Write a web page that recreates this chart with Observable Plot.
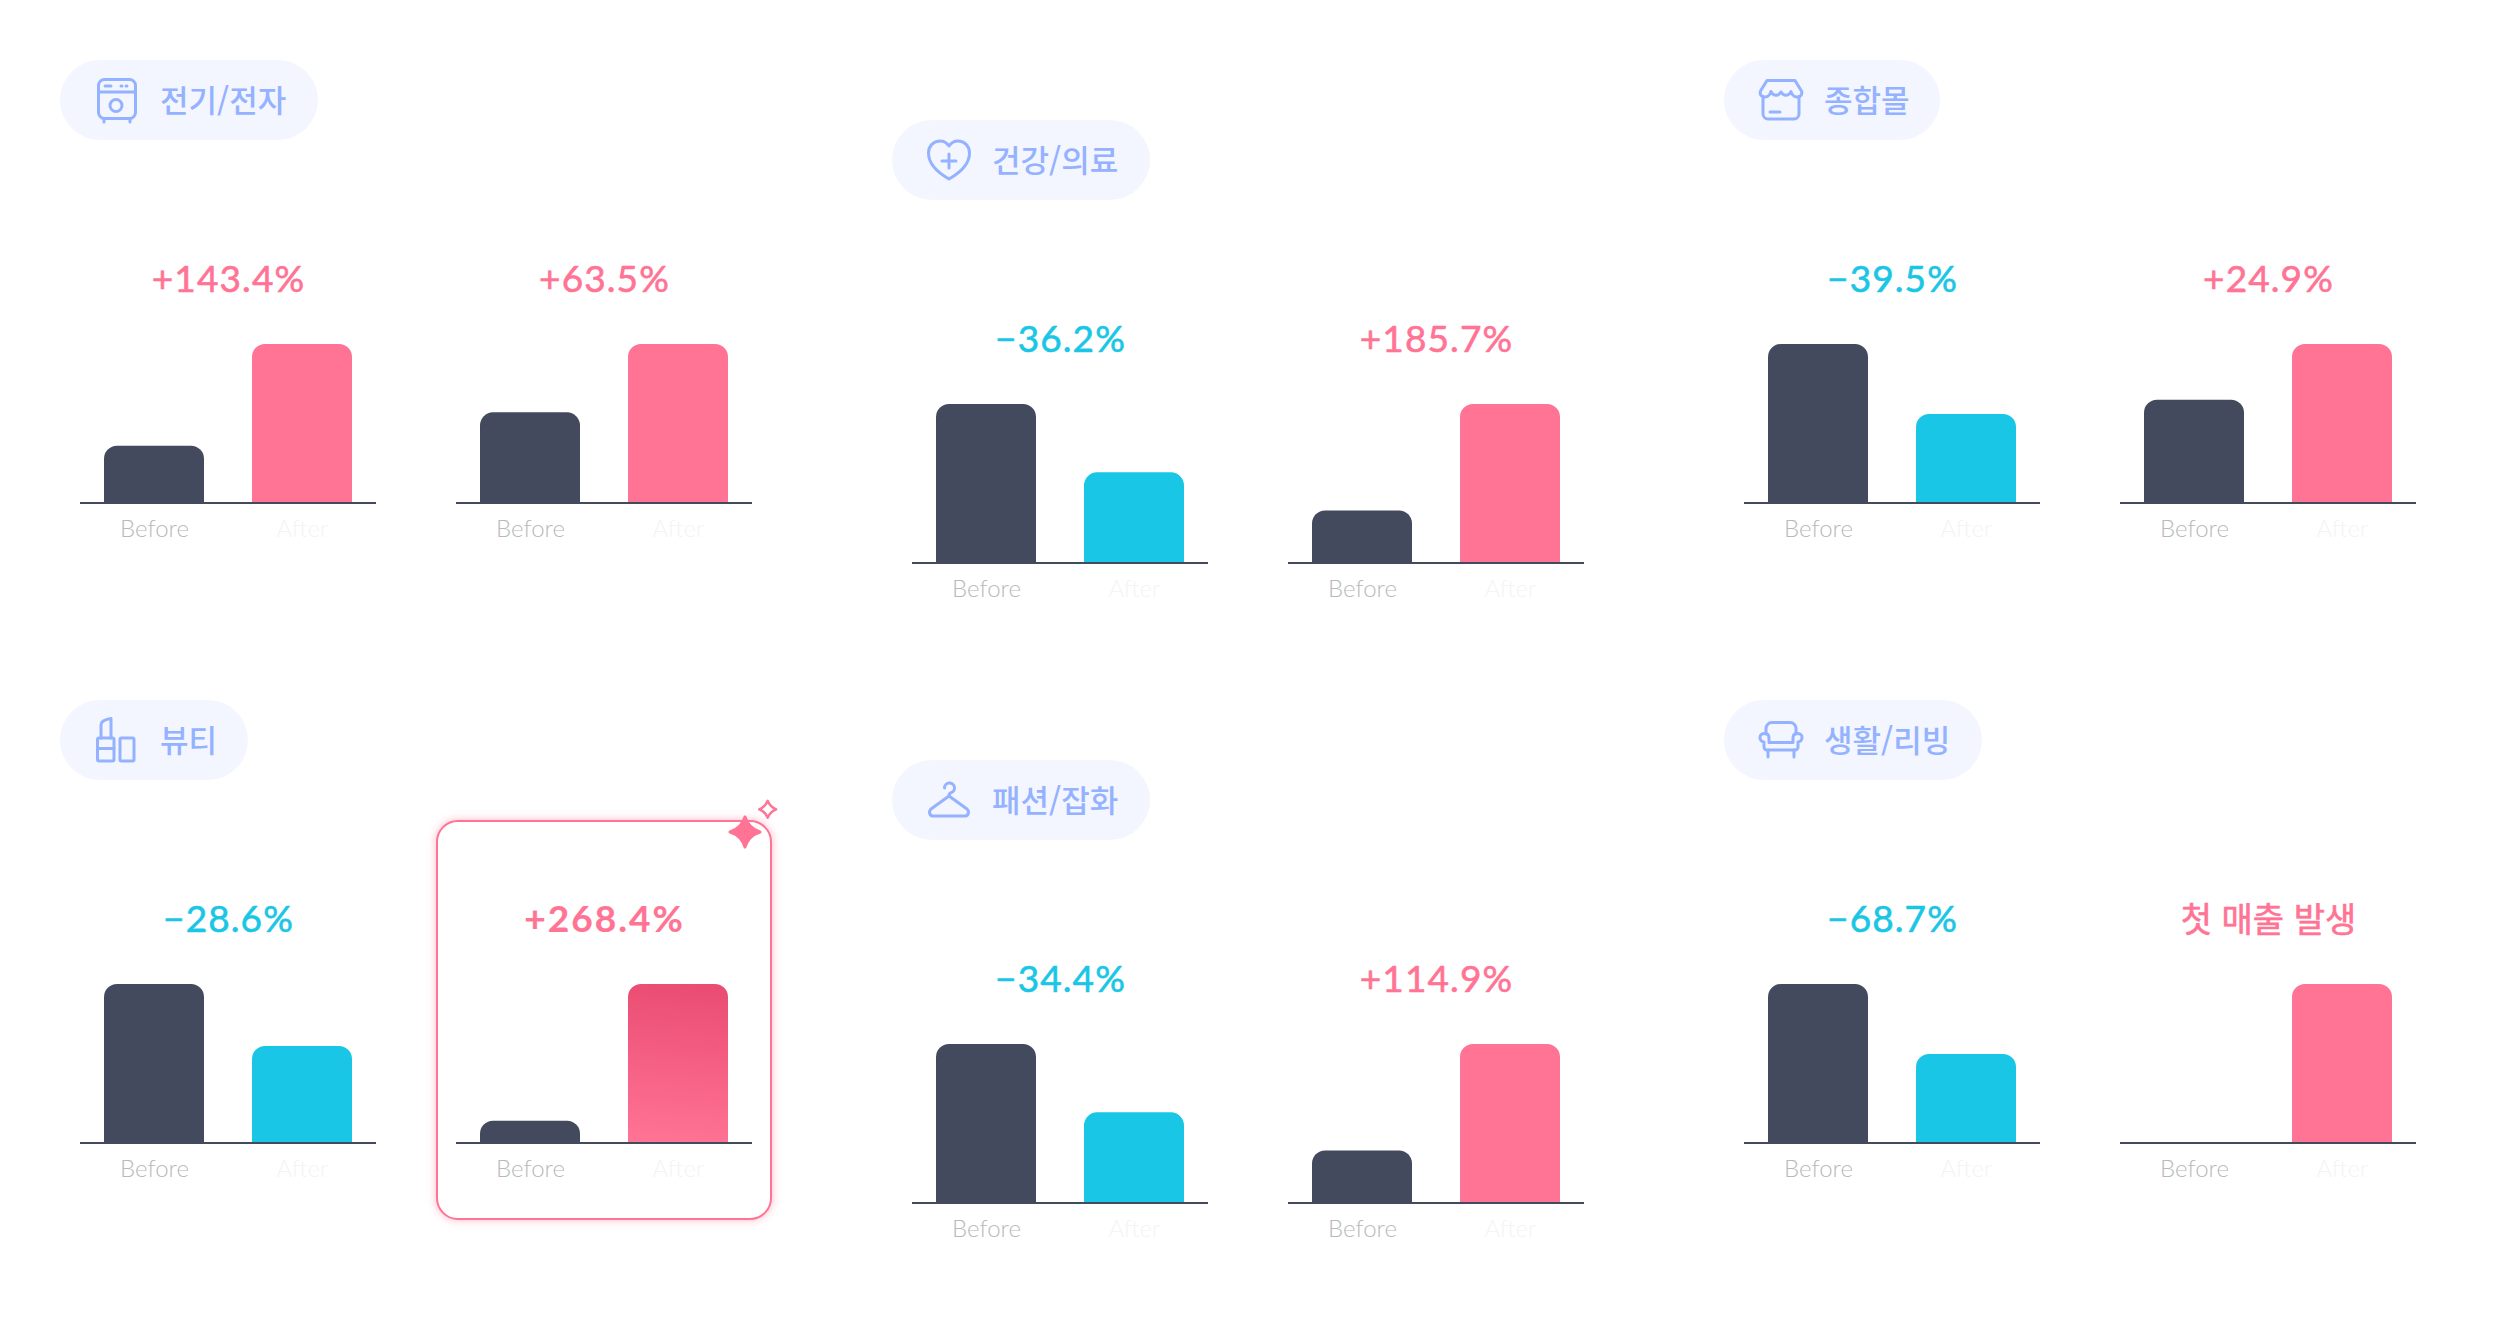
<!DOCTYPE html>
<html lang="ko">
<head>
<meta charset="utf-8">
<script src="https://cdn.jsdelivr.net/npm/d3@7"></script>
<script src="https://cdn.jsdelivr.net/npm/@observablehq/plot@0.6"></script>
<style>
html,body{margin:0;padding:0;background:#fff;}
#page{position:relative;width:2496px;height:1340px;overflow:hidden;background:#fff;}
.pill{position:absolute;height:80px;border-radius:40px;background:#f3f6ff;}
.pill svg{position:absolute;top:16px;left:33px;width:48px;height:48px;fill:none;stroke:#94b2ff;stroke-width:3;stroke-linejoin:round;stroke-linecap:round;}
.pill span{position:absolute;left:100px;top:0;font:500 31px/78px "Noto Sans CJK KR";color:#94b2ff;white-space:nowrap;}
.panel{position:absolute;}
.panel svg{display:block;background:transparent;overflow:visible;}
.panel.num svg g[aria-label="text"]{letter-spacing:1.1px;}
.panel.num.hot svg g[aria-label="text"]{letter-spacing:2px;}
#hl{position:absolute;left:436px;top:820px;width:332px;height:396px;border:2px solid #ff7394;border-radius:22px;box-shadow:0 0 8px rgba(255,115,148,.5);background:#fff;}
#spark{position:absolute;left:720px;top:790px;width:70px;height:70px;overflow:visible;}
</style>
</head>
<body>
<div id="page"></div>
<script>
// ---- data ----
const steps = ["Before", "After"];
const categories = ["전기/전자", "건강/의료", "종합몰", "뷰티", "패션/잡화", "생활/리빙"];
const beforeA = [36, 100, 100, 100, 100, 100];
const afterA  = [100, 57, 56, 61, 57, 56];
const beforeB = [57, 33, 65, 14, 33, 0];
const afterB  = [100, 100, 100, 100, 100, 100];
const labelsA = ["+143.4%", "−36.2%", "−39.5%", "−28.6%", "−34.4%", "−68.7%"];
const labelsB = ["+63.5%", "+185.7%", "+24.9%", "+268.4%", "+114.9%", "첫 매출 발생"];

// ---- layout and style ----
const PINK = "#ff7394", CYAN = "#19c6e6", DARK = "#444a5e";
const groupX = [80, 912, 1744, 80, 912, 1744];
const groupTop = [60, 120, 60, 700, 760, 700];
const pillLeft = [60, 892, 1724, 60, 892, 1724];
const pillWidth = [258, 258, 216, 188, 258, 258];
const icons = [
 `<rect x="5.5" y="3.5" width="37" height="39" rx="6"/><path d="M5.5 16H42.5M12 10H18M28 10H29M33 10H34M11 43V46M37 43V46"/><circle cx="23" cy="29.5" r="6"/>`,
 `<path d="M24 43C10 35 3.5 27 3.5 17C3.5 10 8.5 5 15 5C19 5 22 7 24 10C26 7 29 5 33 5C39.5 5 44.5 10 44.5 17C44.5 27 38 35 24 43Z"/><path d="M24 18V32M17 25H31"/>`,
 `<path d="M10 4.5H38L44.5 15C45.5 18 44 20 42 20.5V38a5 5 0 0 1-5 5H11a5 5 0 0 1-5-5V20.5C4 20 2.5 18 3.5 15Z"/><path d="M6 20.5C9 22 13 20 14 15.5C16 20 21 21 24 16C27 21 32 20 34 15.5C35 20 39 22 42 20.5M13 36H23"/>`,
 `<rect x="4.5" y="22" width="16.5" height="23" rx="1.5"/><path d="M4.5 32.5H21M8 22V9Q8 4 18 2.5V22"/><rect x="27" y="22" width="14" height="23" rx="1.5"/>`,
 `<path d="M19.5 12a5 5 0 1 1 6.5 4.7c-1.5 .5-2 1.3-2 3.3L42 33C45 36 43 40 40 40H8C5 40 3 36 6 33L24 20"/>`,
 `<path d="M9 18V13a6 6 0 0 1 6-6.5H33a6 6 0 0 1 6 6.5V18"/><path d="M9 17.5C5 17 2.7 19 3 22C3 24 5 26 7 26V31a3 3 0 0 0 3 3H38a3 3 0 0 0 3-3V26C43 26 45 24 45 22C45.3 19 43 17 39 17.5C36.5 18 36 20 36 22V26.5H12V22C12 20 11.5 18 9 17.5Z"/><path d="M11 34V41M37 34V41"/>`
];

const page = document.getElementById("page");

// highlight card behind the panel with the strongest change
const hl = document.createElement("div"); hl.id = "hl"; page.appendChild(hl);

categories.forEach((c, i) => {
  const p = document.createElement("div");
  p.className = "pill";
  p.style.left = pillLeft[i] + "px";
  p.style.top = groupTop[i] + "px";
  p.style.width = pillWidth[i] + "px";
  p.innerHTML = `<svg viewBox="0 0 48 48">${icons[i]}</svg><span>${c}</span>`;
  page.appendChild(p);
});

function gradientDefs() {
  const ns = "http://www.w3.org/2000/svg";
  const defs = document.createElementNS(ns, "defs");
  const g = document.createElementNS(ns, "linearGradient");
  g.setAttribute("id", "hotBar");
  g.setAttribute("x1", "0.53"); g.setAttribute("y1", "0");
  g.setAttribute("x2", "0.47"); g.setAttribute("y2", "1");
  [["0", "#ea4c72"], ["1", "#ff7394"]].forEach(([o, c]) => {
    const s = document.createElementNS(ns, "stop");
    s.setAttribute("offset", o); s.setAttribute("stop-color", c);
    g.appendChild(s);
  });
  defs.appendChild(g);
  return defs;
}

function panel(before, after, label, left, top, hot) {
  const rows = [{step: steps[0], value: before}, {step: steps[1], value: after}];
  const up = after > before;
  const accent = up ? PINK : CYAN;
  const hasHangul = /[가-힣]/.test(label);
  const chart = Plot.plot({
    width: 296, height: 280,
    marginLeft: 0, marginRight: 0, marginTop: 80, marginBottom: 41,
    style: {background: "transparent", overflow: "visible"},
    x: {domain: steps, paddingInner: 0.324, paddingOuter: 0.162, axis: null},
    y: {domain: [0, 100], axis: null},
    marks: [
      gradientDefs,
      Plot.barY(rows, {
        x: "step", y: "value", ry1: 13,
        fill: d => d.step === "Before" ? DARK : (hot ? "url(#hotBar)" : accent)
      }),
      Plot.ruleY([0], {stroke: DARK, strokeWidth: 2, dy: -0.5}),
      Plot.text([label], {
        text: d => d, y: [100], dy: -53, lineAnchor: "bottom",
        fill: accent,
        stroke: accent,
        strokeWidth: hot ? 0.2 : 0.6,
        fontSize: hasHangul ? 34 : 37,
        fontWeight: hot ? 700 : 400,
        fontFamily: hasHangul ? "Noto Sans CJK KR" : "Lato"
      }),
      Plot.axisX({ticks: ["Before"], tickSize: 0, tickPadding: 16, label: null, fill: "#b9b9b9", fontSize: 24, fontFamily: "Lato", fontWeight: 300}),
      Plot.axisX({ticks: ["After"], tickSize: 0, tickPadding: 16, label: null, fill: "#f3f4f6", fontSize: 24, fontFamily: "Lato", fontWeight: 300})
    ]
  });
  const d = document.createElement("div");
  d.className = "panel" + (hasHangul ? "" : " num") + (hot ? " hot" : "");
  d.style.left = left + "px";
  d.style.top = top + "px";
  d.appendChild(chart);
  page.appendChild(d);
}

categories.forEach((c, i) => {
  const chartTop = groupTop[i] + 204;
  panel(beforeA[i], afterA[i], labelsA[i], groupX[i], chartTop, false);
  panel(beforeB[i], afterB[i], labelsB[i], groupX[i] + 376, chartTop, i === 3);
});

// sparkles on the highlight card
const star = (cx, cy, r, w) => `M${cx} ${cy - r}Q${cx + w} ${cy - w} ${cx + r} ${cy}Q${cx + w} ${cy + w} ${cx} ${cy + r}Q${cx - w} ${cy + w} ${cx - r} ${cy}Q${cx - w} ${cy - w} ${cx} ${cy - r}Z`;
const s = document.createElementNS("http://www.w3.org/2000/svg", "svg");
s.id = "spark";
s.setAttribute("viewBox", "0 0 70 70");
s.innerHTML = `<path d="${star(25, 42, 15, 3.5)}" fill="${PINK}" stroke="${PINK}" stroke-width="3" stroke-linejoin="round"/>
<path d="${star(47.7, 19.3, 8.5, 2.4)}" fill="none" stroke="${PINK}" stroke-width="2.4" stroke-linejoin="round"/>`;
page.appendChild(s);
</script>
</body>
</html>
